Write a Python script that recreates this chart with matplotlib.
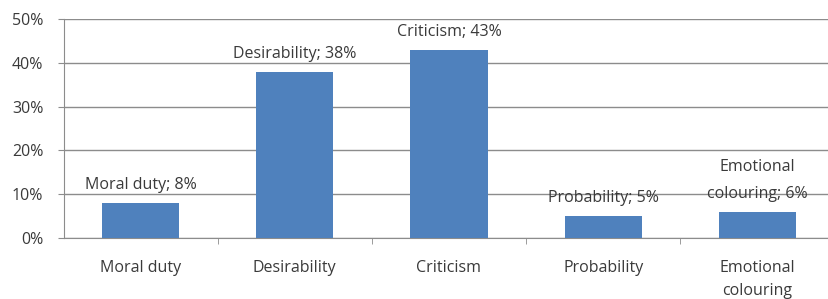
import matplotlib.pyplot as plt
from matplotlib.ticker import FixedLocator

categories = ['Moral duty', 'Desirability', 'Criticism', 'Probability', 'Emotional\ncolouring']
values = [8, 38, 43, 5, 6]
labels = ['Moral duty; 8%', 'Desirability; 38%', 'Criticism; 43%', 'Probability; 5%', 'Emotional\ncolouring; 6%']
yticks = [0, 10, 20, 30, 40, 50]

plt.rcParams['font.family'] = ['Open Sans', 'DejaVu Sans']

fig = plt.figure(figsize=(8.29, 2.99), dpi=100)
ax = fig.add_axes([0.0766, 0.204, 0.93, 0.7324])

bar_color = '#4F81BD'
grid_color = '#8C8C8C'
text_color = '#3a3a3a'
fs = 11.5

x = list(range(len(categories)))
ax.bar(x, values, width=0.5, color=bar_color, zorder=3)

for xi, v, lab in zip(x, values, labels):
    ax.annotate(lab, (xi, v), xytext=(0, 7), textcoords='offset points',
                ha='center', va='bottom', fontsize=fs, color=text_color,
                linespacing=1.9, zorder=4)

ax.set_xlim(-0.5, 4.5)
ax.set_ylim(0, 50)
ax.set_yticks(yticks)
ax.set_yticklabels([f'{t}%' for t in yticks], fontsize=fs, color=text_color)
ax.yaxis.grid(True, color=grid_color, linewidth=1.0, zorder=0)
ax.set_axisbelow(True)

ax.set_xticks(x)
ax.set_xticklabels(categories, fontsize=fs, color=text_color, linespacing=1.55)
ax.tick_params(axis='x', which='major', length=0, pad=16)
ax.xaxis.set_minor_locator(FixedLocator([0.5, 1.5, 2.5, 3.5]))
ax.tick_params(axis='x', which='minor', length=4, color=grid_color)
ax.tick_params(axis='y', length=4.5, color=grid_color, pad=10)

for side in ['top', 'right']:
    ax.spines[side].set_visible(False)
for side in ['left', 'bottom']:
    ax.spines[side].set_color(grid_color)

fig.savefig('out.png', dpi=100)
